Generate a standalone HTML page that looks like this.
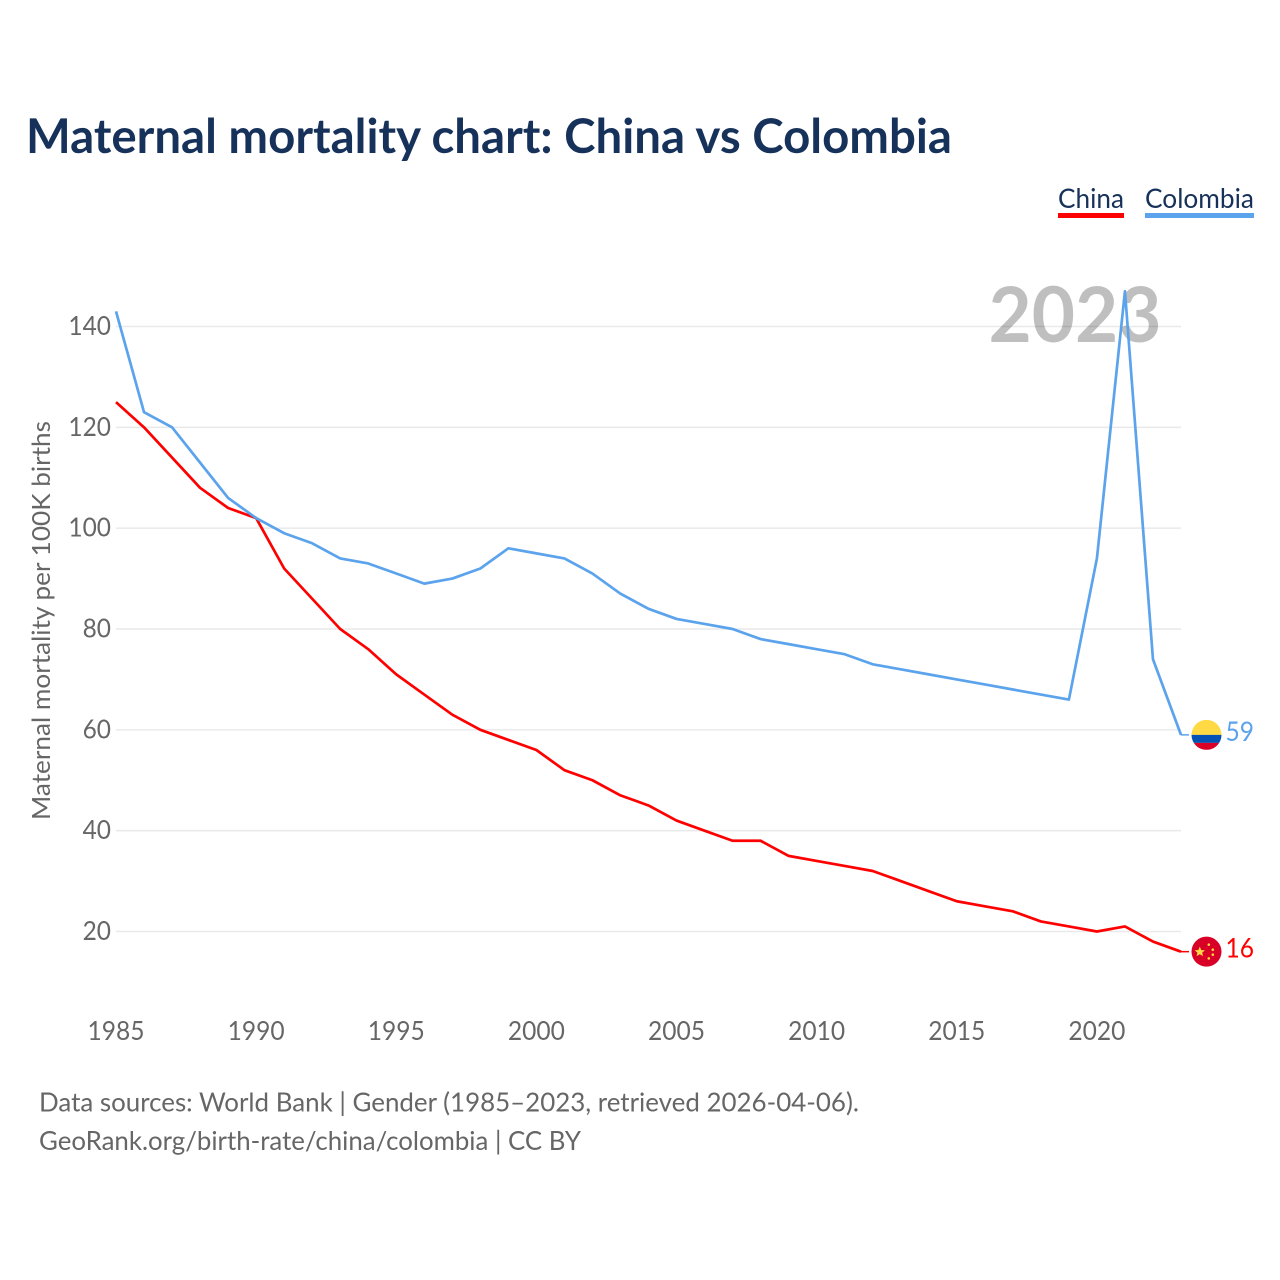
<!DOCTYPE html>
<html lang="en">
<head>
<meta charset="utf-8">
<title>Maternal mortality chart: China vs Colombia</title>
<style>
html,body{margin:0;padding:0;background:#fff;}
svg{display:block;}
text{font-family:"Lato","Carlito","Liberation Sans",sans-serif;}
</style>
</head>
<body>
<svg id="chart" xmlns="http://www.w3.org/2000/svg" width="1280" height="1280" viewBox="0 0 1280 1280">
  <rect width="1280" height="1280" fill="#fff"/>
  <text x="26" y="153" font-size="47.5" font-weight="700" fill="#17325a" textLength="926" lengthAdjust="spacingAndGlyphs">Maternal mortality chart: China vs Colombia</text>

  <g>
    <text x="1058" y="208" font-size="27" fill="#17325a" textLength="66" lengthAdjust="spacingAndGlyphs">China</text>
    <rect x="1058" y="213" width="66" height="5" fill="#ff0000"/>
  </g>
  <g>
    <text x="1145" y="208" font-size="27" fill="#17325a" textLength="109" lengthAdjust="spacingAndGlyphs">Colombia</text>
    <rect x="1145" y="213" width="109" height="5" fill="#5ba3ec"/>
  </g>

  <g id="grid"></g>
  <text x="988.5" y="342" font-size="77" font-weight="700" fill="#000" fill-opacity="0.25" textLength="173" lengthAdjust="spacingAndGlyphs">2023</text>
  <g id="yticks"></g>
  <g id="xticks"></g>
  <text transform="translate(50,820) rotate(-90)" x="0" y="0" font-size="25.5" fill="#666" textLength="399" lengthAdjust="spacingAndGlyphs">Maternal mortality per 100K births</text>

  <g id="series"></g>

  <defs>
    <clipPath id="flag-clip-co"><circle cx="0" cy="0" r="15"/></clipPath>
  </defs>
  <g id="flag-colombia">
    <g clip-path="url(#flag-clip-co)">
      <rect x="-15" y="-15" width="30" height="15" fill="#ffda44"/>
      <rect x="-15" y="0" width="30" height="8" fill="#0052b4"/>
      <rect x="-15" y="8" width="30" height="7" fill="#d80027"/>
    </g>
  </g>
  <g id="flag-china">
    <circle cx="0" cy="0" r="15" fill="#d80027"/>
    <polygon fill="#ffda44" points="-6.7,-5 -5.2,-1.6 -1.5,-1.4 -4.3,1 -3.5,4.5 -6.7,2.6 -9.9,4.5 -9.1,1 -11.9,-1.4 -8.2,-1.6"/>
    <circle cx="2.3" cy="-7" r="1.3" fill="#ffda44"/>
    <circle cx="6.3" cy="-2" r="1.3" fill="#ffda44"/>
    <circle cx="6.3" cy="3" r="1.3" fill="#ffda44"/>
    <circle cx="2.3" cy="6.7" r="1.3" fill="#ffda44"/>
  </g>
  <text id="end-colombia" x="1225.5" font-size="27" fill="#5ba3ec" textLength="28.5" lengthAdjust="spacingAndGlyphs"></text>
  <text id="end-china" x="1225.5" font-size="27" fill="#ff0000" textLength="28.5" lengthAdjust="spacingAndGlyphs"></text>

  <text x="39" y="1111.5" font-size="26.5" fill="#666" textLength="820" lengthAdjust="spacingAndGlyphs">Data sources: World Bank | Gender (1985–2023, retrieved 2026-04-06).</text>
  <text x="39" y="1150" font-size="26.5" fill="#666" textLength="542" lengthAdjust="spacingAndGlyphs">GeoRank.org/birth-rate/china/colombia | CC BY</text>
</svg>
<script>
const years = [1985,1986,1987,1988,1989,1990,1991,1992,1993,1994,1995,1996,1997,1998,1999,2000,2001,2002,2003,2004,2005,2006,2007,2008,2009,2010,2011,2012,2013,2014,2015,2016,2017,2018,2019,2020,2021,2022,2023];
const chinaValues = [125,120,114,108,104,102,92,86,80,76,71,67,63,60,58,56,52,50,47,45,42,40,38,38,35,34,33,32,30,28,26,25,24,22,21,20,21,18,16];
const colombiaValues = [143,123,120,113,106,102,99,97,94,93,91,89,90,92,96,95,94,91,87,84,82,81,80,78,77,76,75,73,72,71,70,69,68,67,66,94,147,74,59];
const yTickValues = [20,40,60,80,100,120,140];
const xTickValues = [1985,1990,1995,2000,2005,2010,2015,2020];

const NS = 'http://www.w3.org/2000/svg';
function xScale(year){ return 116 + (year - 1985) * (1181 - 116) / (2023 - 1985); }
function yScale(value){ return 931.5 - (value - 20) * (931.5 - 326.5) / (140 - 20); }
function make(tag, attrs, parent){
  const el = document.createElementNS(NS, tag);
  for (const k in attrs) el.setAttribute(k, attrs[k]);
  parent.appendChild(el);
  return el;
}

const grid = document.getElementById('grid');
const yticks = document.getElementById('yticks');
const xticks = document.getElementById('xticks');
const series = document.getElementById('series');

yTickValues.forEach(function(v){
  const line = make('line', {x1:116, x2:1181, y1:yScale(v), y2:yScale(v), stroke:'#e9e9e9', 'stroke-width':1.5}, grid);
  
  
  const label = make('text', {x:111, y:yScale(v)+8.5, 'text-anchor':'end', 'font-size':26, fill:'#666', textLength:String(v).length*14.2, lengthAdjust:'spacingAndGlyphs'}, yticks);
  
  
  label.textContent = v;
});

xTickValues.forEach(function(y){
  const label = make('text', {x:xScale(y), y:1040, 'text-anchor':'middle', 'font-size':26, fill:'#666', textLength:57, lengthAdjust:'spacingAndGlyphs'}, xticks);
  
  
  label.textContent = y;
});

function drawSeries(values, color, name){
  const d = values.map(function(v,i){ return (i ? 'L' : 'M') + xScale(years[i]).toFixed(2) + ' ' + yScale(v).toFixed(2); }).join(' ');
  const path = make('path', {d:d, fill:'none', stroke:color, 'stroke-width':2.7, 'stroke-linejoin':'round'}, series);
  
  
  const last = values[values.length-1];
  const lastX = xScale(years[years.length-1]);
  const conn = make('line', {x1:lastX, x2:lastX+8, y1:yScale(last), y2:yScale(last), stroke:color, 'stroke-width':1.5}, series);
  
  
}
drawSeries(chinaValues, '#ff0000', 'line-china');
drawSeries(colombiaValues, '#5ba3ec', 'line-colombia');

function placeEnd(values, flagId, textId){
  const last = values[values.length-1];
  const y = yScale(last);
  document.getElementById(flagId).setAttribute('transform', 'translate(1206.5,' + y.toFixed(2) + ')');
  const t = document.getElementById(textId);
  t.setAttribute('y', (y + 6).toFixed(2));
  t.textContent = last;
}
placeEnd(colombiaValues, 'flag-colombia', 'end-colombia');
placeEnd(chinaValues, 'flag-china', 'end-china');
</script>
</body>
</html>
